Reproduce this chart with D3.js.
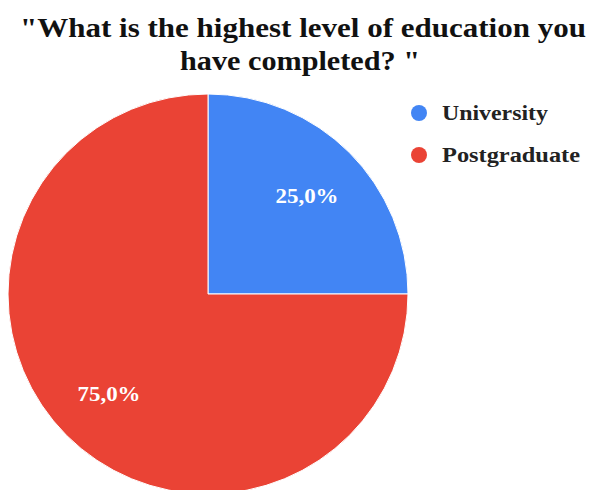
<!DOCTYPE html>
<html>
<head>
<meta charset="utf-8">
<script src="https://cdn.jsdelivr.net/npm/d3@7"></script>
<style>
  html, body { margin: 0; padding: 0; background: #fff; }
  svg { display: block; }
</style>
</head>
<body>
<svg id="chart" width="592" height="490"></svg>
<script>
const categories = ["University", "Postgraduate"];
const values = [25.0, 75.0];
const colors = ["#4285F4", "#EA4335"];
const titleLines = ["\"What is the highest level of education you", "have completed? \""];
const titleWidths = [566, 240];
const legendWidths = [106, 138];
const labelWidth = 63;

const svg = d3.select("#chart");
const serif = "'Liberation Serif', 'DejaVu Serif', serif";

// Title, two centred lines
svg.append("g").selectAll("text")
  .data(titleLines)
  .join("text")
  .attr("x", (d, i) => i === 0 ? 303 : 300)
  .attr("y", (d, i) => 37 + i * 33)
  .attr("text-anchor", "middle")
  .attr("font-family", serif)
  .attr("font-weight", "bold")
  .attr("font-size", 27)
  .attr("fill", "#111")
  .attr("textLength", (d, i) => titleWidths[i])
  .attr("lengthAdjust", "spacingAndGlyphs")
  .text(d => d);

// Pie, starting at 12 o'clock and running clockwise
const cx = 208, cy = 294, R = 200;
const pie = d3.pie().sort(null).value(d => d.value);
const arcs = pie(categories.map((c, i) => ({ cat: c, value: values[i] })));
const arc = d3.arc().innerRadius(0).outerRadius(R);
const labelArc = d3.arc().innerRadius(R * 0.7).outerRadius(R * 0.7);
const color = d3.scaleOrdinal().domain(categories).range(colors);

const g = svg.append("g").attr("transform", `translate(${cx},${cy})`);
g.selectAll("path")
  .data(arcs)
  .join("path")
  .attr("d", arc)
  .attr("fill", d => color(d.data.cat))
  .attr("stroke", "#fff")
  .attr("stroke-width", 1);

const fmt = v => v.toFixed(1).replace(".", ",") + "%";
g.selectAll("text.lbl")
  .data(arcs)
  .join("text")
  .attr("class", "lbl")
  .attr("transform", d => `translate(${labelArc.centroid(d)})`)
  .attr("text-anchor", "middle")
  .attr("dy", "0.36em")
  .attr("font-family", serif)
  .attr("font-weight", "bold")
  .attr("font-size", 21)
  .attr("fill", "#fff")
  .attr("textLength", labelWidth)
  .attr("lengthAdjust", "spacingAndGlyphs")
  .text(d => fmt(d.data.value));

// Legend
const legend = svg.append("g").attr("transform", "translate(419,113)");
const items = legend.selectAll("g")
  .data(categories)
  .join("g")
  .attr("transform", (d, i) => `translate(0,${i * 42})`);
items.append("circle")
  .attr("r", 8)
  .attr("fill", d => color(d));
items.append("text")
  .attr("x", 23)
  .attr("y", 7)
  .attr("font-family", serif)
  .attr("font-weight", "bold")
  .attr("font-size", 20)
  .attr("fill", "#222")
  .attr("textLength", (d, i) => legendWidths[i])
  .attr("lengthAdjust", "spacingAndGlyphs")
  .text(d => d);
</script>
</body>
</html>
